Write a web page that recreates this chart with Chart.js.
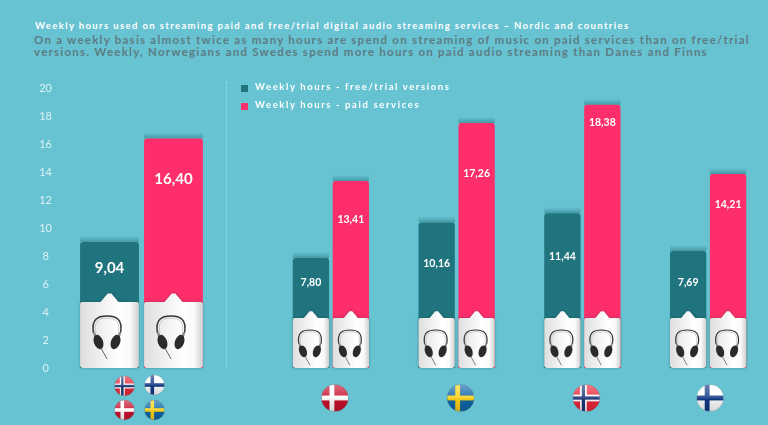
<!DOCTYPE html>
<html>
<head>
<meta charset="utf-8">
<script src="https://cdn.jsdelivr.net/npm/chart.js@4/dist/chart.umd.min.js"></script>
<style>
    html, body { margin: 0; padding: 0; width: 768px; height: 425px; overflow: hidden; background: #67c3d2; }
    body { position: relative; font-family: Lato, sans-serif; }
    canvas { position: absolute; top: 0; }
    #leftChart { left: 0; }
    #rightChart { left: 268px; }
    #titulo { position: absolute; left: 35px; top: 20px; font-size: 9.5px; font-weight: 700; color: #fff; letter-spacing: 1.38px; white-space: nowrap; }
    #subtitulo { position: absolute; left: 34px; top: 34px; font-size: 11.5px; line-height: 12px; font-weight: 700; color: #5d7c83; letter-spacing: 1.24px; white-space: nowrap; }
    #divisor { position: absolute; left: 226px; top: 82px; height: 286px; border-left: 1px dotted #a9dde6; }
    .legenda { position: absolute; left: 241px; font-size: 9.5px; font-weight: 700; color: #fff; letter-spacing: 1.6px; white-space: nowrap; }
    .legenda i { position: absolute; left: 0; top: 4px; width: 7px; height: 7px; }
    .legenda span { margin-left: 14px; }
</style>
</head>
<body>
<div id="titulo"></div>
<div id="subtitulo"></div>
<div id="divisor"></div>
<canvas id="leftChart" width="226" height="425"></canvas>
<canvas id="rightChart" width="503" height="425"></canvas>
<script>
const titulo = 'Weekly hours used on streaming paid and free/trial digital audio streaming services – Nordic and countries'
const subtitulo = [
    'On a weekly basis almost twice as many hours are spend on streaming of music on paid services than on free/trial',
    'versions. Weekly, Norwegians and Swedes spend more hours on paid audio streaming than Danes and Finns'
]
const nomesSeries = ['Weekly hours - free/trial versions', 'Weekly hours - paid services']

const yTicks = [0, 2, 4, 6, 8, 10, 12, 14, 16, 18, 20]

const nordicCategories = ['Nordic']
const nordicFree = [9.0]
const nordicPaid = [16.4]
const nordicFreeLabels = ['9,04']
const nordicPaidLabels = ['16,40']

const countryCategories = ['Denmark', 'Sweden', 'Norway', 'Finland']
const countryFree = [7.85, 10.4, 11.05, 8.35]
const countryPaid = [13.35, 17.5, 18.8, 13.85]
const countryFreeLabels = ['7,80', '10,16', '11,44', '7,69']
const countryPaidLabels = ['13,41', '17,26', '18,38', '14,21']

const corFree = '#1f747d'
const corPaid = '#fd2e69'

// distancia do rotulo ate o topo da barra, em px
const quedaNordic = [[26], [41]]
const quedaCountry = [[25, 41, 43, 32], [39, 51, 18, 31]]

document.getElementById('titulo').textContent = titulo
document.getElementById('subtitulo').innerHTML = subtitulo.join('<br>')

nomesSeries.forEach(function (nome, i) {
    const div = document.createElement('div')
    div.className = 'legenda'
    div.style.top = (81 + i * 18) + 'px'
    div.innerHTML = '<i style="background:' + (i === 0 ? corFree : corPaid) + '"></i><span>' + nome + '</span>'
    document.body.appendChild(div)
})

function bandeira(ctx, nome, cx, cy, r) {
    const flags = {
        Denmark: { fundo: '#c8102e', cruz: '#ffffff' },
        Sweden: { fundo: '#0f67a8', cruz: '#fcd116' },
        Norway: { fundo: '#e8293b', cruz: '#ffffff', dentro: '#1c3578' },
        Finland: { fundo: '#ffffff', cruz: '#123a85' }
    }
    const f = flags[nome]
    const vx = cx - r * 0.22
    ctx.save()
    ctx.beginPath()
    ctx.arc(cx, cy, r, 0, Math.PI * 2)
    ctx.clip()
    ctx.fillStyle = f.fundo
    ctx.fillRect(cx - r, cy - r, r * 2, r * 2)
    ctx.fillStyle = f.cruz
    const t = r * (f.dentro ? 0.5 : 0.36)
    ctx.fillRect(vx - t / 2, cy - r, t, r * 2)
    ctx.fillRect(cx - r, cy - t / 2, r * 2, t)
    if (f.dentro) {
        const d = r * 0.24
        ctx.fillStyle = f.dentro
        ctx.fillRect(vx - d / 2, cy - r, d, r * 2)
        ctx.fillRect(cx - r, cy - d / 2, r * 2, d)
    }
    // brilho do botao
    const brilho = ctx.createLinearGradient(0, cy - r, 0, cy + r)
    brilho.addColorStop(0, 'rgba(255,255,255,0.38)')
    brilho.addColorStop(0.5, 'rgba(255,255,255,0.12)')
    brilho.addColorStop(0.55, 'rgba(0,0,0,0.05)')
    brilho.addColorStop(1, 'rgba(0,0,0,0.16)')
    ctx.fillStyle = brilho
    ctx.fillRect(cx - r, cy - r, r * 2, r * 2)
    ctx.restore()
    ctx.beginPath()
    ctx.arc(cx, cy, r, 0, Math.PI * 2)
    ctx.strokeStyle = 'rgba(90,120,130,0.35)'
    ctx.lineWidth = 0.7
    ctx.stroke()
}

function fones(ctx, cx, topo, s) {
    ctx.save()
    ctx.translate(cx, topo)
    ctx.scale(s, s)
    // arco
    ctx.strokeStyle = '#333'
    ctx.lineWidth = 1.5
    ctx.beginPath()
    ctx.moveTo(-13.5, 17)
    ctx.bezierCurveTo(-16, 3, -9, 0, 0, 0)
    ctx.bezierCurveTo(9, 0, 16, 3, 13.5, 17)
    ctx.stroke()
    ctx.strokeStyle = '#bbb'
    ctx.lineWidth = 0.8
    ctx.beginPath()
    ctx.moveTo(-11.5, 15)
    ctx.bezierCurveTo(-13, 5, -8, 2.2, 0, 2.2)
    ctx.bezierCurveTo(8, 2.2, 13, 5, 11.5, 15)
    ctx.stroke()
    // garfos
    ctx.strokeStyle = '#8a8a8a'
    ctx.lineWidth = 2.4
    ctx.beginPath()
    ctx.moveTo(-13, 16)
    ctx.lineTo(-11, 24)
    ctx.moveTo(13, 16)
    ctx.lineTo(11, 24)
    ctx.stroke()
    // conchas
    ctx.fillStyle = '#2b2b2b'
    ctx.beginPath()
    ctx.ellipse(-8.5, 26, 4.6, 7.5, -0.35, 0, Math.PI * 2)
    ctx.fill()
    ctx.beginPath()
    ctx.ellipse(8.5, 26, 4.6, 7.5, 0.35, 0, Math.PI * 2)
    ctx.fill()
    // cabo
    ctx.strokeStyle = '#555'
    ctx.lineWidth = 0.9
    ctx.beginPath()
    ctx.moveTo(-6, 32)
    ctx.lineTo(0, 43)
    ctx.stroke()
    ctx.restore()
}

function ladrilho(ctx, bar, altura, seta) {
    const x = bar.x - bar.width / 2
    const w = bar.width
    const base = bar.base
    const topo = base - altura
    ctx.save()
    ctx.shadowColor = 'rgba(0,40,50,0.35)'
    ctx.shadowBlur = 3
    const grad = ctx.createLinearGradient(x, 0, x + w, 0)
    grad.addColorStop(0, '#dedede')
    grad.addColorStop(0.65, '#ffffff')
    grad.addColorStop(0.85, '#fafafa')
    grad.addColorStop(1, '#cfcfcf')
    ctx.fillStyle = grad
    ctx.beginPath()
    ctx.moveTo(x, topo + 2)
    ctx.quadraticCurveTo(x, topo, x + 2, topo)
    ctx.lineTo(bar.x - seta, topo)
    ctx.lineTo(bar.x - seta * 0.2, topo - seta * 0.95)
    ctx.lineTo(bar.x + seta * 0.2, topo - seta * 0.95)
    ctx.lineTo(bar.x + seta, topo)
    ctx.lineTo(x + w - 2, topo)
    ctx.quadraticCurveTo(x + w, topo, x + w, topo + 2)
    ctx.lineTo(x + w, base - 3)
    ctx.quadraticCurveTo(x + w, base, x + w - 3, base)
    ctx.lineTo(x + 3, base)
    ctx.quadraticCurveTo(x, base, x, base - 3)
    ctx.closePath()
    ctx.fill()
    ctx.restore()
}

function criarPlugin(cfg) {
    return {
        id: 'enfeites',
        beforeDatasetsDraw(chart) {
            // sombra em cima de cada barra
            const ctx = chart.ctx
            chart.data.datasets.forEach(function (ds, i) {
                chart.getDatasetMeta(i).data.forEach(function (bar) {
                    const g = ctx.createLinearGradient(0, bar.y - 6, 0, bar.y)
                    g.addColorStop(0, 'rgba(20,90,100,0)')
                    g.addColorStop(1, 'rgba(20,90,100,0.4)')
                    ctx.fillStyle = g
                    ctx.fillRect(bar.x - bar.width / 2, bar.y - 6, bar.width, 6)
                })
            })
        },
        afterDatasetsDraw(chart) {
            const ctx = chart.ctx
            chart.data.datasets.forEach(function (ds, i) {
                chart.getDatasetMeta(i).data.forEach(function (bar, j) {
                    ladrilho(ctx, bar, cfg.alturaTile, cfg.seta)
                    fones(ctx, bar.x - cfg.desvio, bar.base - cfg.alturaTile + cfg.topoFone, cfg.escala)
                    ctx.fillStyle = '#fff'
                    ctx.font = '700 ' + cfg.fonte + 'px Lato, sans-serif'
                    ctx.textAlign = 'center'
                    ctx.textBaseline = 'middle'
                    ctx.fillText(cfg.rotulos[i][j], bar.x, bar.y + cfg.quedas[i][j])
                })
            })
            cfg.bandeiras(ctx, chart)
        }
    }
}

function criarGrafico(id, categorias, free, paid, escalaY, catPct, barPct, padding, plugin) {
    return new Chart(document.getElementById(id), {
        type: 'bar',
        data: {
            labels: categorias,
            datasets: [
                { label: nomesSeries[0], data: free, backgroundColor: corFree, borderRadius: { topLeft: 3, topRight: 3 }, borderSkipped: 'bottom' },
                { label: nomesSeries[1], data: paid, backgroundColor: corPaid, borderRadius: { topLeft: 3, topRight: 3 }, borderSkipped: 'bottom' }
            ]
        },
        options: {
            responsive: false,
            animation: false,
            categoryPercentage: catPct,
            barPercentage: barPct,
            layout: { padding: padding },
            scales: {
                x: { display: false },
                y: escalaY
            },
            plugins: { legend: { display: false }, tooltip: { enabled: false } }
        },
        plugins: [plugin]
    })
}

const eixoBase = { min: 0, max: 20 }

const eixoEsquerdo = {
    ...eixoBase,
    afterBuildTicks(axis) { axis.ticks = yTicks.map(v => ({ value: v })) },
    afterFit(axis) { axis.width = 36 },
    grid: { display: false },
    border: { display: false },
    ticks: {
        crossAlign: 'center',
        color: '#dcf1f5',
        font: { family: 'Lato, sans-serif', size: 11, weight: '400' },
        padding: 0
    }
}

criarGrafico('leftChart', nordicCategories, nordicFree, nordicPaid, eixoEsquerdo, 0.785, 0.92,
    { top: 88, bottom: 57, left: 24, right: 3 },
    criarPlugin({
        alturaTile: 66,
        seta: 9,
        desvio: 2.5,
        topoFone: 14,
        escala: 1,
        fonte: 15,
        rotulos: [nordicFreeLabels, nordicPaidLabels],
        quedas: quedaNordic,
        bandeiras(ctx, chart) {
            const cx = chart.scales.x.getPixelForValue(0)
            bandeira(ctx, 'Norway', cx - 17, 386, 10)
            bandeira(ctx, 'Finland', cx + 13, 385, 10)
            bandeira(ctx, 'Denmark', cx - 17, 410, 10)
            bandeira(ctx, 'Sweden', cx + 13, 410, 10)
        }
    })
)

criarGrafico('rightChart', countryCategories, countryFree, countryPaid, { ...eixoBase, display: false }, 0.635, 0.91,
    { top: 88, bottom: 57, left: 0, right: 0 },
    criarPlugin({
        alturaTile: 50,
        seta: 7,
        desvio: 1,
        topoFone: 12,
        escala: 0.82,
        fonte: 10.5,
        rotulos: [countryFreeLabels, countryPaidLabels],
        quedas: quedaCountry,
        bandeiras(ctx, chart) {
            countryCategories.forEach(function (nome, i) {
                const ajuste = nome === 'Finland' ? 2 : 4
                bandeira(ctx, nome, chart.scales.x.getPixelForValue(i) + ajuste, 398, 13.5)
            })
        }
    })
)
</script>
</body>
</html>
